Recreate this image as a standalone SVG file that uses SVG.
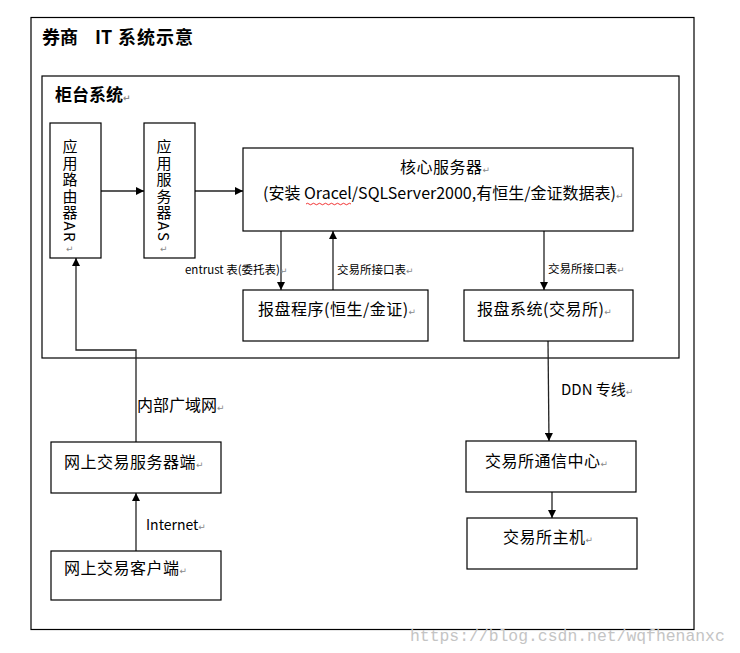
<svg xmlns="http://www.w3.org/2000/svg" width="740" height="653" viewBox="0 0 740 653">
<style>
text{font-family:"Noto Sans CJK SC","Liberation Sans",sans-serif;fill:#000}
.box{fill:#fff;stroke:#000;stroke-width:1.2}
.frame{fill:none;stroke:#000;stroke-width:1.2}
.t16{font-size:16px;letter-spacing:0.5px}
.t12{font-size:11.5px}
.rm{fill:#888;font-family:"DejaVu Sans",sans-serif;font-size:9px;letter-spacing:0}
.ln{fill:none;stroke:#222;stroke-width:1.3}
.vt{font-size:15px;writing-mode:vertical-rl;letter-spacing:1.5px}
</style>
<defs>
<marker id="ah" viewBox="0 0 10 10" refX="10" refY="5" markerWidth="8" markerHeight="8" markerUnits="userSpaceOnUse" orient="auto">
<path d="M0,0 L10,5 L0,10 z" fill="#000"/>
</marker>
</defs>
<rect width="740" height="653" fill="#fff"/>
<g id="outer">
<rect class="frame" x="31" y="17.5" width="663" height="612"/>
<text y="44" style="font-size:18px;font-weight:bold"><tspan x="42">券商</tspan><tspan x="95">IT</tspan><tspan x="118" style="letter-spacing:1px">系统示意</tspan></text>
</g>
<g id="counter">
<rect class="frame" x="42" y="76" width="637" height="282"/>
<text x="55" y="101" style="font-size:17px;font-weight:bold">柜台系统<tspan class="rm">↵</tspan></text>
</g>
<g id="connectors">
<path class="ln" d="M101,191 H144" marker-end="url(#ah)"/>
<path class="ln" d="M195,191 H243" marker-end="url(#ah)"/>
<path class="ln" d="M281,231 V290" marker-end="url(#ah)"/>
<path class="ln" d="M333,290 V231" marker-end="url(#ah)"/>
<path class="ln" d="M544,231 V290" marker-end="url(#ah)"/>
<path class="ln" d="M548,341 L549,441" marker-end="url(#ah)"/>
<path class="ln" d="M552,492 V518" marker-end="url(#ah)"/>
<path class="ln" d="M136,442 V350 H76 V258" marker-end="url(#ah)"/>
<path class="ln" d="M136,551 V493" marker-end="url(#ah)"/>
<text class="t12" x="185" y="274">entrust 表(委托表)<tspan class="rm">↵</tspan></text>
<text class="t12" x="337" y="274">交易所接口表<tspan class="rm">↵</tspan></text>
<text class="t12" x="548" y="273">交易所接口表<tspan class="rm">↵</tspan></text>
<text x="561" y="395" style="font-size:15px">DDN 专线<tspan class="rm">↵</tspan></text>
<text x="137" y="411" style="font-size:16px">内部广域网<tspan class="rm">↵</tspan></text>
<text x="146" y="530" style="font-size:14px">Internet<tspan class="rm">↵</tspan></text>
</g>
<g id="ar">
<rect class="box" x="50" y="123" width="51" height="135"/>
<text class="vt" x="70" y="139">应用路由器AR</text>
<text class="rm" x="66" y="252">↵</text>
</g>
<g id="as">
<rect class="box" x="144" y="123" width="51" height="135"/>
<text class="vt" x="164" y="139">应用服务器AS</text>
<text class="rm" x="160" y="252">↵</text>
</g>
<g id="core">
<rect class="box" x="243" y="148" width="390" height="83"/>
<text class="t16" x="400" y="173">核心服务器<tspan class="rm">↵</tspan></text>
<text x="263" y="199" style="font-size:16px">(安装 Oracel/SQLServer2000,有恒生/金证数据表)<tspan class="rm">↵</tspan></text>
<path d="M306,204 q1.5,-1.5 3,0 t3,0 t3,0 t3,0 t3,0 t3,0 t3,0 t3,0 t3,0 t3,0 t3,0 t3,0 t3,0 t3,0 t3,0" fill="none" stroke="#e00" stroke-width="0.8"/>
</g>
<g id="baopan-hs">
<rect class="box" x="243" y="290" width="185" height="51"/>
<text class="t16" x="258" y="315">报盘程序(恒生/金证)<tspan class="rm">↵</tspan></text>
</g>
<g id="baopan-ex">
<rect class="box" x="464" y="290" width="169" height="51"/>
<text class="t16" x="477" y="315">报盘系统(交易所)<tspan class="rm">↵</tspan></text>
</g>
<g id="comm">
<rect class="box" x="466" y="441" width="170" height="51"/>
<text class="t16" x="485" y="467">交易所通信中心<tspan class="rm">↵</tspan></text>
</g>
<g id="host">
<rect class="box" x="467" y="518" width="170" height="51"/>
<text class="t16" x="503" y="543">交易所主机<tspan class="rm">↵</tspan></text>
</g>
<g id="web-server">
<rect class="box" x="51" y="442" width="170" height="51"/>
<text class="t16" x="64" y="468">网上交易服务器端<tspan class="rm">↵</tspan></text>
</g>
<g id="web-client">
<rect class="box" x="51" y="551" width="170" height="49"/>
<text class="t16" x="64" y="574">网上交易客户端<tspan class="rm">↵</tspan></text>
</g>
<text x="410" y="641" style="font-family:'Liberation Mono',monospace;font-size:16.4px;fill:#c4c4c4">https://blog.csdn.net/wqfhenanxc</text>
</svg>
